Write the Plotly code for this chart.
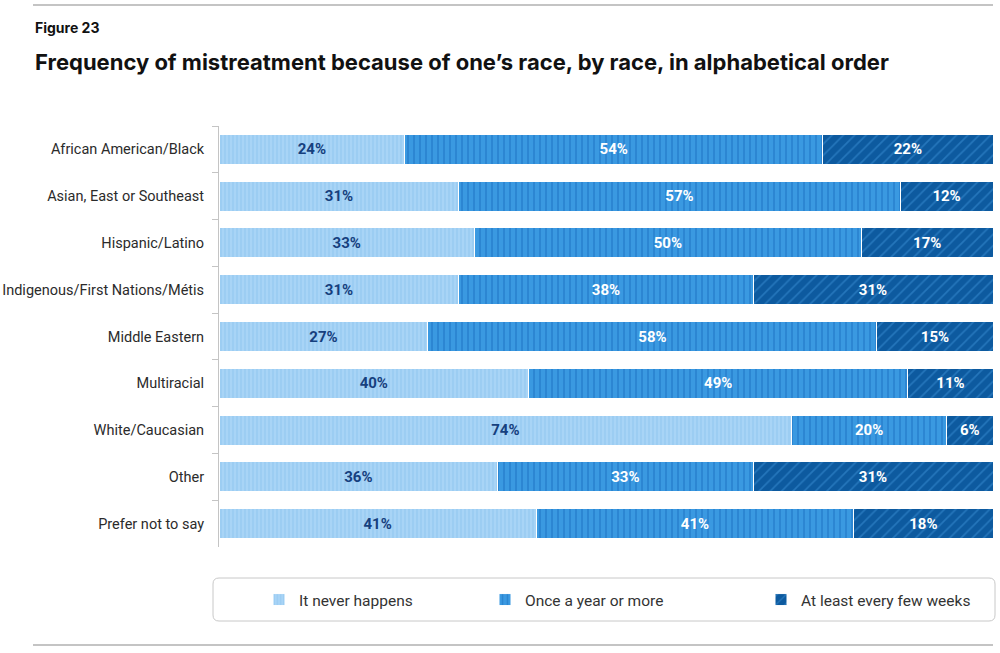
import plotly.graph_objects as go

categories = ["African American/Black", "Asian, East or Southeast", "Hispanic/Latino",
              "Indigenous/First Nations/Métis", "Middle Eastern", "Multiracial",
              "White/Caucasian", "Other", "Prefer not to say"]
never = [24, 31, 33, 31, 27, 40, 74, 36, 41]
yearly = [54, 57, 50, 38, 58, 49, 20, 33, 41]
weeks = [22, 12, 17, 31, 15, 11, 6, 31, 18]
series_names = ["It never happens", "Once a year or more", "At least every few weeks"]

W, H = 1000, 653
L, R, T, B = 219, 7, 126, 106
PW, PH = W - L - R, H - T - B

def px(x):
    return (x - L) / PW

def py(y):
    return (H - B - y) / PH

styles = [
    dict(bg="#a8d4f6", fg="#86c0ec", shape="|", size=4, sol=0.35, txt="#16407e"),
    dict(bg="#3a99e1", fg="#1a6fc0", shape="|", size=6, sol=0.3, txt="#ffffff"),
    dict(bg="#0d5a9f", fg="#3d92d8", shape="/", size=8, sol=0.2, txt="#ffffff"),
]

fig = go.Figure()
for i, (name, vals) in enumerate(zip(series_names, [never, yearly, weeks])):
    s = styles[i]
    fig.add_trace(go.Bar(
        y=categories, x=vals, name=name, orientation="h",
        text=[f"{v}%" for v in vals], textposition="inside",
        insidetextanchor="middle",
        textfont=dict(family="Roboto", size=15, color=s["txt"], weight="bold"),
        marker=dict(color=s["bg"], line=dict(color="white", width=1),
                    pattern=dict(shape=s["shape"], fgcolor=s["fg"], bgcolor=s["bg"],
                                 size=s["size"], solidity=s["sol"])),
        legend=["legend", "legend2", "legend3"][i],
        hoverinfo="skip",
    ))

leg_common = dict(orientation="h", yanchor="middle", xanchor="left",
                  font=dict(family="Roboto", size=15.5, color="#333333"),
                  bgcolor="rgba(0,0,0,0)")
fig.update_layout(
    barmode="stack",
    bargap=0.36,
    width=W, height=H,
    margin=dict(l=L, r=R, t=T, b=B, autoexpand=False),
    plot_bgcolor="white", paper_bgcolor="white",
    uniformtext=dict(minsize=15, mode="show"),
    xaxis=dict(range=[0, 100], visible=False, fixedrange=True),
    yaxis=dict(autorange="reversed", showline=True, linecolor="#c4c4c4", linewidth=1,
               ticks="outside", tickson="boundaries", ticklen=6, tickcolor="#c4c4c4",
               tickfont=dict(family="Roboto", size=14.5, color="#2b2b2b"),
               showgrid=False, ticklabelstandoff=11, fixedrange=True, automargin=False),
    legend=dict(x=px(259), y=py(600), **leg_common),
    legend2=dict(x=px(485), y=py(600), **leg_common),
    legend3=dict(x=px(761), y=py(600), **leg_common),
    showlegend=True,
)

# rounded legend box
x0, x1, y0, y1 = px(213), px(995), py(621), py(578)
rx, ry = 6 / PW, 6 / PH
path = (f"M{x0+rx},{y0} L{x1-rx},{y0} Q{x1},{y0} {x1},{y0+ry} L{x1},{y1-ry} "
        f"Q{x1},{y1} {x1-rx},{y1} L{x0+rx},{y1} Q{x0},{y1} {x0},{y1-ry} "
        f"L{x0},{y0+ry} Q{x0},{y0} {x0+rx},{y0} Z")
fig.add_shape(type="path", path=path, xref="paper", yref="paper",
              line=dict(color="#c8c8c8", width=1), layer="below")

for yy in (5, 645):
    fig.add_shape(type="line", xref="paper", yref="paper", x0=px(33), x1=px(993),
                  y0=py(yy), y1=py(yy), line=dict(color="#8a8a8a", width=1.2))

fig.add_annotation(text="<b>Figure 23</b>", xref="paper", yref="paper", x=px(33), y=py(27),
                   xanchor="left", yanchor="middle", showarrow=False,
                   font=dict(family="Inter", size=14, color="#111111"))
fig.add_annotation(text="<b>Frequency of mistreatment because of one’s race, by race, in alphabetical order</b>",
                   xref="paper", yref="paper", x=px(33), y=py(62),
                   xanchor="left", yanchor="middle", showarrow=False,
                   font=dict(family="Inter", size=22, color="#111111"))

fig.write_html("out.html", config={"displayModeBar": False},
               post_script="document.body.style.margin='0';document.body.style.overflow='hidden';")
